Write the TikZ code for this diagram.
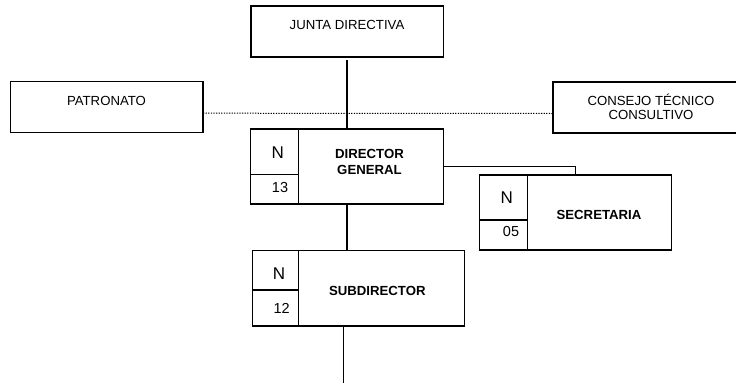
\documentclass[tikz,border=0pt]{standalone}
\usepackage{fontspec}
\setmainfont{Liberation Sans}
\begin{document}
\begin{tikzpicture}[x=1pt,y=-1pt,
  box/.style={draw, line width=1.3pt, inner sep=0pt, outer sep=0pt},
  lbl/.style={anchor=base, inner sep=0pt, font=\fontsize{13.2}{15}\selectfont},
  blbl/.style={anchor=base, inner sep=0pt, font=\fontsize{13.2}{15}\selectfont\bfseries},
  nlbl/.style={anchor=base, inner sep=0pt, font=\fontsize{17}{19}\selectfont},
  numlbl/.style={anchor=base, inner sep=0pt, font=\fontsize{14.5}{16}\selectfont},
  conn/.style={line width=1.3pt},
  divl/.style={line width=1.3pt},
  dotline/.style={line width=1pt, dash pattern=on 1.3pt off 1.3pt}]
\useasboundingbox (0,0) rectangle (736,383);
% boxes
\node[box, minimum width=192.3pt, minimum height=51pt] (junta) at (347,31.5) {};
\node[box, minimum width=192.3pt, minimum height=51pt] (pat) at (106.8,107.2) {};
\node[box, minimum width=192.5pt, minimum height=51pt] (cons) at (649.3,107.5) {};
\node[box, minimum width=192.6pt, minimum height=75pt] (dir) at (347,166.5) {};
\node[box, minimum width=192.4pt, minimum height=75pt] (sec) at (575.5,212.5) {};
\node[box, minimum width=212pt, minimum height=75.3pt] (sub) at (358.3,288.3) {};
% inner dividers
\draw[divl] (298.3,129) -- (298.3,204) (250.7,174.3) -- (298.3,174.3);
\draw[divl] (527.3,175) -- (527.3,250) (479.3,220) -- (527.3,220);
\draw[divl] (298.3,250.7) -- (298.3,326) (252.3,290) -- (298.3,290);
% texts
\node[lbl] (tjunta) at (347,29.3) {JUNTA DIRECTIVA};
\node[lbl] (tpat) at (106.5,105) {PATRONATO};
\node[lbl] (tcons1) at (651,105) {CONSEJO TÉCNICO};
\node[lbl] (tcons2) at (651,119) {CONSULTIVO};
\node[blbl] (tdir1) at (369.5,158.3) {DIRECTOR};
\node[blbl] (tdir2) at (369.5,174) {GENERAL};
\node[nlbl] (ndir) at (277.7,158.3) {N};
\node[numlbl] (cdir) at (280,192.7) {13};
\node[blbl] (tsec) at (599,219) {SECRETARIA};
\node[nlbl] (nsec) at (506.7,203.3) {N};
\node[numlbl] (csec) at (511,236.7) {05};
\node[blbl] (tsub) at (377.3,295.7) {SUBDIRECTOR};
\node[nlbl] (nsub) at (279,279) {N};
\node[numlbl] (csub) at (281.7,313.3) {12};
% connectors
\coordinate (bot) at (343.5,383);
\draw[conn, shorten <=3pt] (junta.south) -- (dir.north);
\draw[dotline] ([yshift=-6pt]pat.east) -- ([yshift=-6pt]cons.west);
\draw[conn] (dir.east) -| (sec.north);
\draw[conn] (dir.south) -- (dir.south |- sub.north);
\draw[conn] (sub.south -| bot) -- (bot);
\end{tikzpicture}
\end{document}
